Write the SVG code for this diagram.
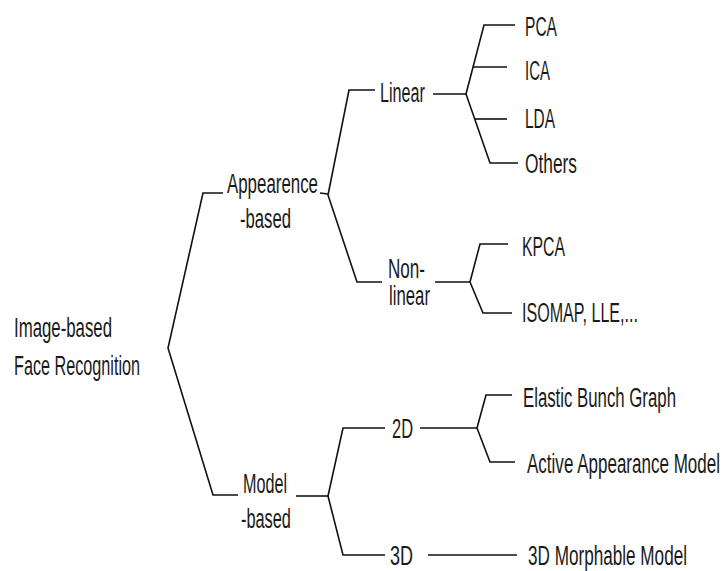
<svg xmlns="http://www.w3.org/2000/svg" width="723" height="571" viewBox="0 0 723 571">
<style>
.t{font-family:"Liberation Sans",Arial,sans-serif;font-size:27px;fill:#1a1a1a}
.n{transform:scale(0.62,1)}
.c{fill:none;stroke:#111;stroke-width:1.6;stroke-linejoin:miter}
</style>
<rect width="723" height="571" fill="#fff"/>
<g id="connectors" class="c">
<polyline points="223,193 203,193 168,348 213,495 238,495"/>
<polyline points="320,193 328,194"/>
<polyline points="375,90 349,90 328,195 357,282 382,282"/>
<polyline points="433,94 466,94"/>
<polyline points="515,25 484,25 466,94 490,163 518,163"/>
<line x1="473" y1="67" x2="507" y2="67"/>
<line x1="475" y1="119" x2="507" y2="119"/>
<polyline points="435,282 470,282"/>
<polyline points="508,244 480,244 470,282 483,313 512,313"/>
<polyline points="296,496 328,496"/>
<polyline points="385,428 343,428 328,496 343,555 385,555"/>
<polyline points="420,428 477,428"/>
<polyline points="512,395 486,395 477,428 490,462 515,462"/>
<line x1="428" y1="555" x2="517" y2="555"/>
</g>
<g id="root" class="n"><text class="t" x="22.6" y="337" textLength="158.1" lengthAdjust="spacingAndGlyphs">Image-based</text><text class="t" x="22.6" y="375" textLength="203.2" lengthAdjust="spacingAndGlyphs">Face Recognition</text></g>
<g id="appearance" class="n"><text class="t" x="366.1" y="193" textLength="146.8" lengthAdjust="spacingAndGlyphs">Appearence</text><text class="t" x="387.1" y="228" textLength="82.3" lengthAdjust="spacingAndGlyphs">-based</text></g>
<g id="model" class="n"><text class="t" x="391.9" y="493" textLength="71" lengthAdjust="spacingAndGlyphs">Model</text><text class="t" x="388.7" y="528" textLength="80.6" lengthAdjust="spacingAndGlyphs">-based</text></g>
<g id="linear" class="n"><text class="t" x="612.9" y="102" textLength="72.6" lengthAdjust="spacingAndGlyphs">Linear</text></g>
<g id="nonlinear" class="n"><text class="t" x="625.8" y="278" textLength="59.7" lengthAdjust="spacingAndGlyphs">Non-</text><text class="t" x="627.4" y="305" textLength="66.1" lengthAdjust="spacingAndGlyphs">linear</text></g>
<g id="pca" class="n"><text class="t" x="846.8" y="36" textLength="51.6" lengthAdjust="spacingAndGlyphs">PCA</text></g>
<g id="ica" class="n"><text class="t" x="846.8" y="80" textLength="40.3" lengthAdjust="spacingAndGlyphs">ICA</text></g>
<g id="lda" class="n"><text class="t" x="846.8" y="128" textLength="48.4" lengthAdjust="spacingAndGlyphs">LDA</text></g>
<g id="others" class="n"><text class="t" x="846.8" y="173" textLength="83.9" lengthAdjust="spacingAndGlyphs">Others</text></g>
<g id="kpca" class="n"><text class="t" x="841.9" y="256" textLength="69.4" lengthAdjust="spacingAndGlyphs">KPCA</text></g>
<g id="isomap" class="n"><text class="t" x="841.9" y="322" textLength="187.1" lengthAdjust="spacingAndGlyphs">ISOMAP, LLE,...</text></g>
<g id="n2d" class="n"><text class="t" x="632.3" y="438" textLength="33.9" lengthAdjust="spacingAndGlyphs">2D</text></g>
<g id="n3d" class="n"><text class="t" x="629" y="565" textLength="37.1" lengthAdjust="spacingAndGlyphs">3D</text></g>
<g id="ebg" class="n"><text class="t" x="843.5" y="407" textLength="246.8" lengthAdjust="spacingAndGlyphs">Elastic Bunch Graph</text></g>
<g id="aam" class="n"><text class="t" x="850" y="473" textLength="311.3" lengthAdjust="spacingAndGlyphs">Active Appearance Model</text></g>
<g id="m3d" class="n"><text class="t" x="851.6" y="565" textLength="256.5" lengthAdjust="spacingAndGlyphs">3D Morphable Model</text></g>
</svg>
